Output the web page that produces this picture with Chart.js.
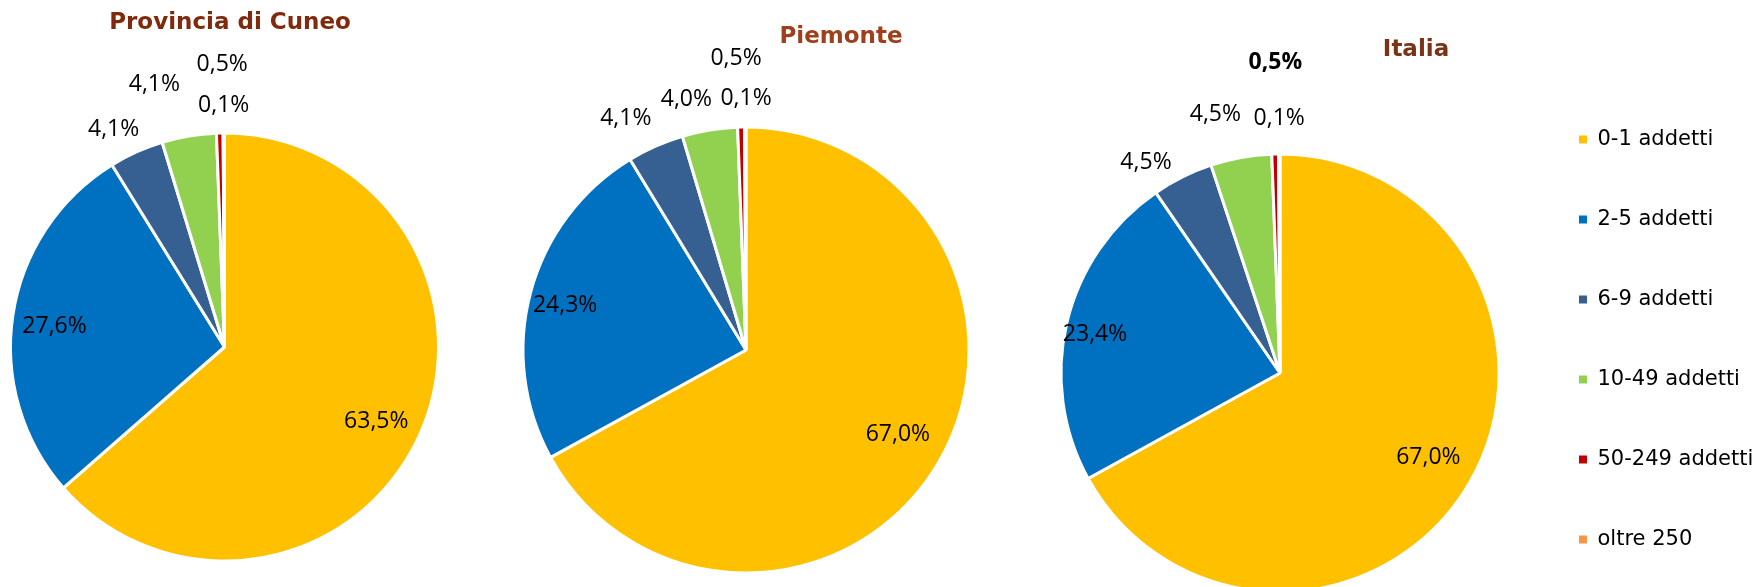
<!DOCTYPE html>
<html lang="it">
<head>
<meta charset="utf-8">
<title>Imprese per classe di addetti</title>
<script src="https://cdn.jsdelivr.net/npm/chart.js@4.4.1/dist/chart.umd.min.js"></script>
<style>
    html, body { margin: 0; padding: 0; background: #fff; overflow: hidden; }
    #wrap { position: relative; width: 1760px; height: 587px; overflow: hidden; }
    #wrap canvas { position: absolute; top: 0; }
</style>
</head>
<body>
<div id="wrap">
    <canvas id="cuneo" width="500" height="700" style="left:0"></canvas>
    <canvas id="piemonte" width="600" height="700" style="left:450px"></canvas>
    <canvas id="italia" width="720" height="700" style="left:1040px"></canvas>
</div>
<script>
// dati (quote % delle imprese per classe di addetti)
const categorie = ['0-1 addetti', '2-5 addetti', '6-9 addetti', '10-49 addetti', '50-249 addetti', 'oltre 250'];
const valoriCuneo = [63.5, 27.6, 4.1, 4.1, 0.5, 0.1];
const valoriPiemonte = [67.0, 24.3, 4.1, 4.0, 0.5, 0.1];
const valoriItalia = [67.0, 23.4, 4.5, 4.5, 0.5, 0.1];
const colori = ['#FFC000', '#0070C0', '#376092', '#92D050', '#C00000', '#F79646'];

// etichette dei valori: [distanza in raggi, spostamento angolare in gradi]
const etichette = {
    id: 'etichette',
    afterDatasetsDraw(chart, args, opts) {
        const ctx = chart.ctx;
        const meta = chart.getDatasetMeta(0);
        const valori = chart.data.datasets[0].data;
        ctx.save();
        ctx.textAlign = 'center';
        ctx.textBaseline = 'middle';
        ctx.fillStyle = '#000';
        meta.data.forEach((arc, i) => {
            const p = arc.getProps(['x', 'y', 'startAngle', 'endAngle', 'outerRadius'], true);
            const [dist, shift] = opts.posizioni[i];
            const a = (p.startAngle + p.endAngle) / 2 + shift * Math.PI / 180;
            const x = p.x + Math.cos(a) * p.outerRadius * dist;
            const y = p.y + Math.sin(a) * p.outerRadius * dist;
            ctx.font = (opts.grassetto.includes(i) ? 'bold ' : '') + '23px "Open Sans"';
            ctx.fillText(valori[i].toFixed(1).replace('.', ',') + '%', x, y);
        });
        ctx.restore();
    }
};

// titolo disegnato a mano (non centrato sulla torta come in Excel)
const titolo = {
    id: 'titolo',
    afterDraw(chart, args, opts) {
        const ctx = chart.ctx;
        ctx.save();
        ctx.font = 'bold 23px "DejaVu Sans"';
        ctx.fillStyle = opts.colore;
        ctx.textAlign = 'center';
        ctx.textBaseline = 'middle';
        ctx.fillText(opts.testo, opts.x, opts.y);
        ctx.restore();
    }
};

// larghezza fissa della legenda
const legendaFissa = {
    id: 'legendaFissa',
    beforeInit(chart) {
        if (!chart.legend) return;
        const fitOrig = chart.legend.fit;
        chart.legend.fit = function () {
            fitOrig.call(this);
            this.width = 240;
        };
    }
};

function creaTorta(id, valori, cfg) {
    const plugins = [etichette, titolo];
    if (cfg.legenda) plugins.push(legendaFissa);
    return new Chart(document.getElementById(id), {
        type: 'pie',
        data: {
            labels: categorie,
            datasets: [{
                data: valori,
                backgroundColor: colori,
                borderColor: '#ffffff',
                borderWidth: 3
            }]
        },
        options: {
            responsive: false,
            animation: false,
            events: [],
            radius: cfg.raggio,
            layout: { padding: cfg.padding },
            plugins: {
                tooltip: { enabled: false },
                legend: {
                    display: !!cfg.legenda,
                    position: 'right',
                    align: 'start',
                    labels: {
                        boxWidth: 8,
                        boxHeight: 8,
                        padding: 59,
                        color: '#000',
                        font: { family: 'DejaVu Sans', size: 21 },
                        generateLabels(chart) {
                            return Chart.overrides.doughnut.plugins.legend.labels.generateLabels(chart)
                                .map(l => ({ ...l, lineWidth: 0 }));
                        }
                    }
                },
                etichette: { posizioni: cfg.posizioni, grassetto: cfg.grassetto || [] },
                titolo: cfg.titolo
            }
        },
        plugins: plugins
    });
}

window.onload = () => {
    creaTorta('cuneo', valoriCuneo, {
        raggio: 214,
        padding: { left: 0, right: 51, top: 0, bottom: 6 },
        posizioni: [[0.79, 1.7], [0.80, -1.6], [1.14, -2.7], [1.27, -5.4], [1.32, 0.8], [1.13, 0]],
        titolo: { testo: 'Provincia di Cuneo', colore: '#7F2A0C', x: 230, y: 23 }
    });
    creaTorta('piemonte', valoriPiemonte, {
        raggio: 223,
        padding: { left: 0, right: 8, top: 0, bottom: 0 },
        posizioni: [[0.78, -1.4], [0.835, -1.2], [1.17, -3.5], [1.157, -4.0], [1.31, -0.7], [1.126, 0.2]],
        titolo: { testo: 'Piemonte', colore: '#9E401C', x: 391, y: 37 }
    });
    creaTorta('italia', valoriItalia, {
        raggio: 219,
        legenda: true,
        padding: { left: 0, right: 0, top: 70, bottom: 24 },
        posizioni: [[0.78, -0.9], [0.863, -1.4], [1.14, -6.0], [1.215, -3.8], [1.42, 0.4], [1.164, 0]],
        grassetto: [4],
        titolo: { testo: 'Italia', colore: '#7A3317', x: 376, y: 50.5 }
    });
};
</script>
</body>
</html>
